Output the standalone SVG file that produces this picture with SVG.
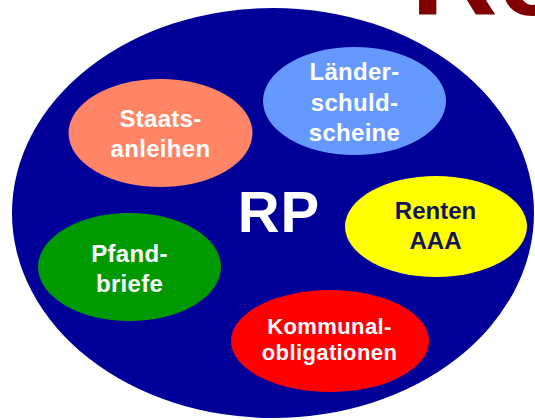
<svg xmlns="http://www.w3.org/2000/svg" width="535" height="420" viewBox="0 0 535 420">
<style>
.lbl{font-family:"Liberation Sans",Arial,sans-serif;font-weight:bold;text-anchor:middle}
.w{fill:#ffffff}
</style>
<rect width="535" height="420" fill="#ffffff"/>
<text x="411" y="15" font-family="Liberation Sans,Arial,sans-serif" font-weight="bold" font-size="120" fill="#800000">Re</text>
<g id="rp">
<ellipse cx="273" cy="213" rx="261" ry="205" fill="#000099"/>
<text class="lbl w" x="279" y="232" font-size="58" letter-spacing="1">RP</text>
</g>
<g id="connectors"></g>
<g id="staats">
<ellipse cx="160.5" cy="133" rx="92" ry="54" fill="#FF8566"/>
<text class="lbl w" font-size="24" letter-spacing="0.3" x="160.5" y="127">Staats-</text>
<text class="lbl w" font-size="24" letter-spacing="0.3" x="160.5" y="157">anleihen</text>
</g>
<g id="laender">
<ellipse cx="354.5" cy="101" rx="91.5" ry="54" fill="#6699FF"/>
<text class="lbl w" font-size="24" letter-spacing="0.3" x="354.5" y="80">Länder-</text>
<text class="lbl w" font-size="24" letter-spacing="0.3" x="354.5" y="111">schuld-</text>
<text class="lbl w" font-size="24" letter-spacing="0.3" x="354.5" y="141">scheine</text>
</g>
<g id="renten">
<ellipse cx="436" cy="226.5" rx="91" ry="50.5" fill="#FFFF00"/>
<text class="lbl" font-size="24" fill="#14145a" x="435.5" y="219">Renten</text>
<text class="lbl" font-size="24" fill="#14145a" x="435.5" y="249">AAA</text>
</g>
<g id="pfand">
<ellipse cx="129.5" cy="267" rx="91.5" ry="54" fill="#009900"/>
<text class="lbl w" font-size="24" letter-spacing="0.3" x="129.5" y="262">Pfand-</text>
<text class="lbl w" font-size="24" letter-spacing="0.3" x="129.5" y="292">briefe</text>
</g>
<g id="kommunal">
<ellipse cx="330" cy="341" rx="99" ry="51" fill="#FF0000"/>
<text class="lbl w" font-size="22" letter-spacing="0.4" x="329.5" y="334">Kommunal-</text>
<text class="lbl w" font-size="22" letter-spacing="0.4" x="329.5" y="360">obligationen</text>
</g>
</svg>
